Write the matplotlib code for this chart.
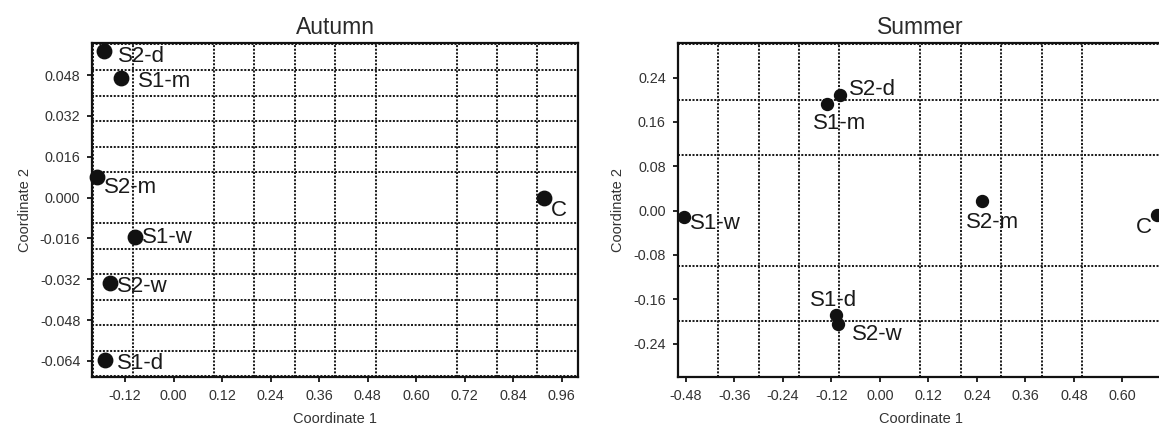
import numpy as np
import matplotlib
matplotlib.use("Agg")
import matplotlib.pyplot as plt
from matplotlib.ticker import MultipleLocator, FormatStrFormatter

plt.rcParams['font.family'] = ['Liberation Sans', 'DejaVu Sans']
plt.rcParams['axes.unicode_minus'] = False

# Autumn ordination
autumn_labels = ['S2-d', 'S1-m', 'S2-m', 'C', 'S1-w', 'S2-w', 'S1-d']
autumn_x = [-0.172, -0.130, -0.189, 0.916, -0.095, -0.157, -0.169]
autumn_y = [0.0574, 0.0467, 0.0082, 0.0000, -0.0154, -0.0336, -0.0638]

# Summer ordination
summer_labels = ['S2-d', 'S1-m', 'S2-m', 'S1-w', 'C', 'S1-d', 'S2-w']
summer_x = [-0.098, -0.131, 0.252, -0.485, 0.686, -0.108, -0.103]
summer_y = [0.208, 0.192, 0.017, -0.012, -0.008, -0.189, -0.204]

# label placement (offset in pixels, alignment)
autumn_offsets = [(14, -5), (17, -3.5), (7, -11), (7, -13), (7, -1), (7, -3), (12, -3)]
autumn_ha = ['left'] * 7
summer_offsets = [(9, 5.5), (13, -19), (11, -21.5), (6, -6.5), (-13, -13), (-3, 15), (14, -11)]
summer_ha = ['left', 'center', 'center', 'left', 'center', 'center', 'left']

W, H = 1159, 428
fig = plt.figure(figsize=(W / 100, H / 100), dpi=100)
ax1 = fig.add_axes([92.3 / W, (H - 377.3) / H, 486 / W, 334.6 / H])
ax2 = fig.add_axes([677.7 / W, (H - 377.3) / H, 486 / W, 334.6 / H])

txt_col = '#333333'


def style_axes(ax, title, xlim, ylim, xmaj, ymaj, xmin, ymin, xfmt, yfmt):
    ax.set_xlim(*xlim)
    ax.set_ylim(*ylim)
    ax.xaxis.set_major_locator(MultipleLocator(xmaj))
    ax.yaxis.set_major_locator(MultipleLocator(ymaj))
    ax.xaxis.set_minor_locator(MultipleLocator(xmin))
    ax.yaxis.set_minor_locator(MultipleLocator(ymin))
    ax.xaxis.set_major_formatter(FormatStrFormatter(xfmt))
    ax.yaxis.set_major_formatter(FormatStrFormatter(yfmt))
    # dotted grid sits on the round values, not on the tick values
    ax.grid(which='minor', color='#1e1e1e', linestyle=(0, (1.0, 0.8)), linewidth=1.45)
    ax.grid(which='major', visible=False)
    ax.set_axisbelow(True)
    ax.tick_params(which='minor', length=0)
    ax.tick_params(which='major', length=3.6, width=1.2, direction='out',
                   labelsize=10.4, labelcolor=txt_col, pad=5)
    for sp in ax.spines.values():
        sp.set_linewidth(1.6)
        sp.set_color('#111111')
    ax.set_title(title, fontsize=16.5, color='#2a2a2a', pad=6)
    ax.set_xlabel('Coordinate 1', fontsize=10.5, color=txt_col, labelpad=6)
    ax.set_ylabel('Coordinate 2', fontsize=10.5, color=txt_col, labelpad=6)


style_axes(ax1, 'Autumn', (-0.201, 1.001), (-0.0704, 0.0607),
           0.12, 0.016, 0.1, 0.01, '%.2f', '%.3f')
style_axes(ax2, 'Summer', (-0.5, 0.702), (-0.301, 0.303),
           0.12, 0.08, 0.1, 0.1, '%.2f', '%.2f')

ax1.plot(autumn_x, autumn_y, 'o', color='#111111', ms=10.4, zorder=3, clip_on=False)
for lab, x, y, off, ha in zip(autumn_labels, autumn_x, autumn_y, autumn_offsets, autumn_ha):
    ax1.annotate(lab, (x, y), xytext=off, textcoords='offset pixels',
                 ha=ha, va='center', fontsize=16, color='#1a1a1a', zorder=4)

ax2.plot(summer_x, summer_y, 'o', color='#111111', ms=8.6, zorder=3, clip_on=False)
for lab, x, y, off, ha in zip(summer_labels, summer_x, summer_y, summer_offsets, summer_ha):
    ax2.annotate(lab, (x, y), xytext=off, textcoords='offset pixels',
                 ha=ha, va='center', fontsize=16, color='#1a1a1a', zorder=4)

fig.savefig('out.png', dpi=100)
